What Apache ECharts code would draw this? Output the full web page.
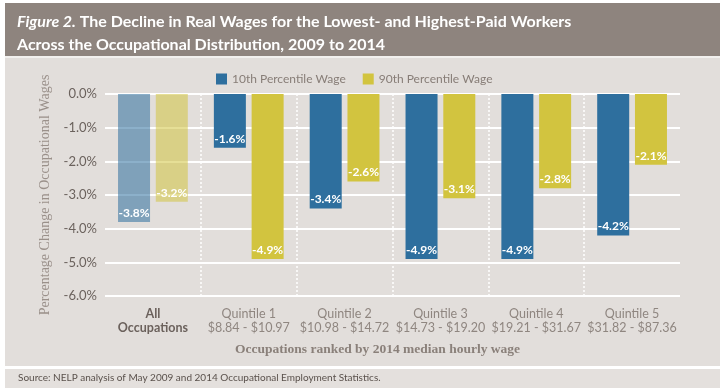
<!DOCTYPE html>
<html>
<head>
<meta charset="utf-8">
<script src="https://cdn.jsdelivr.net/npm/echarts@6/dist/echarts.min.js"></script>
<style>html,body{margin:0;padding:0;background:#fff;}#c{width:720px;height:391px;}</style>
</head>
<body>
<div id="c"></div>
<script>
var categories = ['All Occupations', 'Quintile 1', 'Quintile 2', 'Quintile 3', 'Quintile 4', 'Quintile 5'];
var wageRanges = ['', '$8.84 - $10.97', '$10.98 - $14.72', '$14.73 - $19.20', '$19.21 - $31.67', '$31.82 - $87.36'];
var p10 = [-3.8, -1.6, -3.4, -4.9, -4.9, -4.2];
var p90 = [-3.2, -4.9, -2.6, -3.1, -2.8, -2.1];
var seriesNames = ['10th Percentile Wage', '90th Percentile Wage'];
var yTicks = [-6, -5, -4, -3, -2, -1, 0];

var BLUE = '#2e6f9e', YELLOW = '#d2c43f';
var BLUE_FADED = 'rgba(46,111,158,0.55)', YELLOW_FADED = 'rgba(210,196,63,0.55)';

function buildData(vals, faded) {
  return vals.map(function (v, i) {
    return i === 0 ? { value: v, itemStyle: { color: faded } } : v;
  });
}

var chart = echarts.init(document.getElementById('c'), null, { renderer: 'canvas' });
var labelCfg = {
  show: true, position: 'insideBottom', distance: 3,
  color: '#fff', fontSize: 12, fontWeight: 'bold', fontFamily: 'Lato',
  formatter: function (p) { return p.value.toFixed(1) + '%'; }
};
chart.setOption({
  backgroundColor: '#e2dedb',
  animation: false,
  textStyle: { fontFamily: 'Lato' },
  graphic: [
    { type: 'rect', shape: { x: 0, y: 0, width: 720, height: 3 }, style: { fill: '#fff' }, z: 100, silent: true },
    { type: 'rect', shape: { x: 0, y: 0, width: 5, height: 391 }, style: { fill: '#fff' }, z: 100, silent: true },
    { type: 'rect', shape: { x: 5, y: 3, width: 715, height: 53 }, style: { fill: '#8e847e' }, z: 100, silent: true },
    { type: 'rect', shape: { x: 5, y: 56, width: 715, height: 2 }, style: { fill: '#f2f0ee' }, z: 100, silent: true },
    { type: 'rect', shape: { x: 5, y: 366, width: 715, height: 3 }, style: { fill: '#fff' }, z: 100, silent: true },
    { type: 'rect', shape: { x: 5, y: 369, width: 715, height: 19 }, style: { fill: '#e4e0dd' }, z: 100, silent: true },
    { type: 'rect', shape: { x: 0, y: 388, width: 720, height: 3 }, style: { fill: '#fff' }, z: 100, silent: true },
    {
      type: 'text', left: 17, top: 10, z: 101, silent: true,
      style: {
        text: '{i|Figure 2.} The Decline in Real Wages for the Lowest- and Highest-Paid Workers\nAcross the Occupational Distribution, 2009 to 2014',
        fill: '#fff', font: 'bold 16px Lato', lineHeight: 23,
        rich: { i: { fontStyle: 'italic', fontWeight: 'bold', fontSize: 16, fontFamily: 'Lato', fill: '#fff' } }
      }
    },
    {
      type: 'text', left: 18, top: 373, z: 101, silent: true,
      style: { text: 'Source: NELP analysis of May 2009 and 2014 Occupational Employment Statistics.', fill: '#5a514c', font: '10px Lato' }
    },
    {
      type: 'text', left: 235, top: 343, z: 101, silent: true,
      style: { text: 'Occupations ranked by 2014 median hourly wage', fill: '#8a807a', font: 'bold 13.5px "Liberation Serif"' }
    }
  ],
  legend: {
    left: 211, top: 68, itemWidth: 11, itemHeight: 11, itemGap: 17, icon: 'rect',
    textStyle: { color: '#877d77', fontSize: 12, fontFamily: 'Lato' },
    data: seriesNames
  },
  grid: { left: 105, right: 40, top: 94, bottom: 95 },
  xAxis: {
    type: 'category', data: categories,
    axisLine: { show: false }, axisTick: { show: false },
    splitLine: { show: true, showMinLine: false, showMaxLine: false, lineStyle: { color: '#ffffff', type: [2, 2], width: 1.5 } },
    axisLabel: {
      margin: 11, interval: 0,
      formatter: function (val, i) {
        if (i === 0) return '{b|All}\n{b|Occupations}';
        return '{n|' + val + '}\n{n|' + wageRanges[i] + '}';
      },
      rich: {
        b: { fontWeight: 'bold', color: '#6b615c', fontSize: 12.5, lineHeight: 14, fontFamily: 'Lato' },
        n: { color: '#8f8680', fontSize: 12.5, lineHeight: 14, fontFamily: 'Lato' }
      }
    }
  },
  yAxis: {
    type: 'value', min: yTicks[0], max: yTicks[yTicks.length - 1], interval: 1,
    name: 'Percentage Change in Occupational Wages', nameLocation: 'middle', nameGap: 51,
    nameTextStyle: { color: '#9a908a', fontSize: 14, fontFamily: 'Liberation Serif' },
    axisLine: { show: false }, axisTick: { show: false },
    splitLine: { lineStyle: { color: '#ffffff', width: 2 } },
    axisLabel: { color: '#6b625d', fontSize: 13, margin: 8, fontFamily: 'Lato', formatter: function (v) { return v.toFixed(1) + '%'; } }
  },
  series: [
    { name: seriesNames[0], type: 'bar', barWidth: 32, barGap: '18%', itemStyle: { color: BLUE }, label: labelCfg, data: buildData(p10, BLUE_FADED) },
    { name: seriesNames[1], type: 'bar', barWidth: 32, barGap: '18%', itemStyle: { color: YELLOW }, label: labelCfg, data: buildData(p90, YELLOW_FADED) }
  ]
});
</script>
</body>
</html>
